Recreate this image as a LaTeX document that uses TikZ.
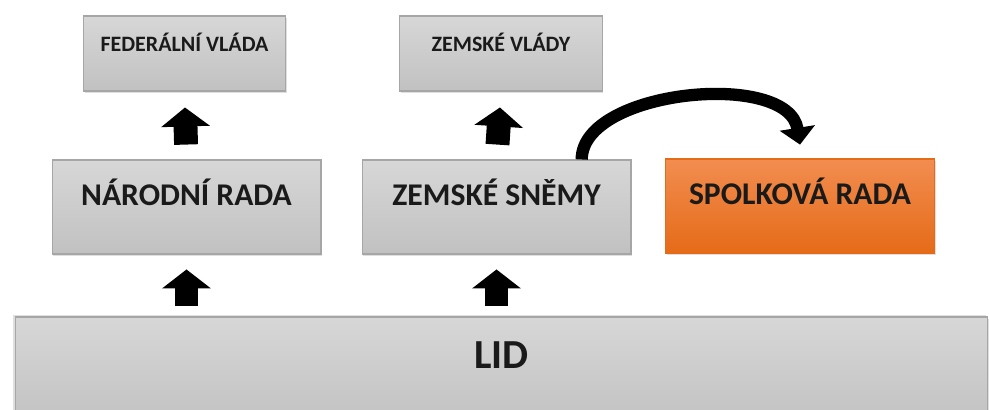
\documentclass[tikz,border=0pt]{standalone}
\usepackage{fontspec}
\setmainfont{Carlito}
\usetikzlibrary{arrows.meta,shadows}
\definecolor{greytop}{HTML}{D7D7D7}
\definecolor{greybot}{HTML}{C1C1C1}
\definecolor{greyline}{HTML}{A6A6A6}
\definecolor{orangetop}{HTML}{F28D50}
\definecolor{orangebot}{HTML}{E56B18}
\definecolor{ink}{HTML}{1A1A1A}

\begin{document}
\begin{tikzpicture}[x=0.02cm,y=-0.02cm,
  box/.style={rectangle, draw=greyline, line width=0.6pt,
    top color=greytop, bottom color=greybot, text=ink,
    drop shadow={shadow xshift=0.7pt, shadow yshift=-1pt, opacity=0.25}},
  small/.style={box, minimum width=4.05cm, minimum height=1.5cm,
    font=\fontsize{12.5}{14}\selectfont\bfseries, text height=8.5pt, text depth=10.8pt},
  mid/.style={box, minimum width=5.38cm, minimum height=1.88cm,
    font=\fontsize{18}{20}\selectfont\bfseries, text height=12pt, text depth=13.6pt},
  hot/.style={draw=orangebot, top color=orangetop, bottom color=orangebot},
  blockarrow/.style={black, line width=13.6pt, -{Triangle[width=27.2pt,length=10.8pt]}},
  curvearrow/.style={black, line width=7pt, -{Triangle[width=19.8pt,length=9.6pt]}}
]

\useasboundingbox (0,0) rectangle (989,409);
\clip (0,0) rectangle (989,409);

% the people at the bottom
\node[box, minimum width=19.46cm, minimum height=2.2cm,
  font=\fontsize{23.5}{26}\selectfont\bfseries, text height=15pt, text depth=19.4pt,
  drop shadow={shadow xshift=-1pt, shadow yshift=1pt, opacity=0.25}] (lid) at (501.5,372) {LID};

% assemblies
\node[mid] (nrada) at (186.5,207) {NÁRODNÍ RADA};
\node[mid] (zsnemy) at (496.5,207) {ZEMSKÉ SNĚMY};
\node[mid, hot] (srada) at (800,206) {SPOLKOVÁ RADA};

% governments
\node[small] (fvlada) at (184.5,53.5) {FEDERÁLNÍ VLÁDA};
\node[small] (zvlady) at (501,53.5) {ZEMSKÉ VLÁDY};

% block arrows
\draw[blockarrow, shorten <=5.7pt, shorten >=8.5pt] (lid.north -| nrada.south) -- (nrada.south);
\draw[blockarrow, shorten <=5.7pt, shorten >=8.5pt] (lid.north -| zsnemy.south) -- (zsnemy.south);
\draw[blockarrow, shorten <=8.5pt, shorten >=9.1pt] (nrada.north) -- (fvlada.south);
\draw[blockarrow, shorten <=8.5pt, shorten >=9.1pt] (zsnemy.north) -- (zvlady.south);

% curved arrow to the federal council
\draw[curvearrow] ([xshift=48.5pt]zsnemy.north) .. controls +(0,-70) and +(-12,-75) .. ([yshift=7.9pt]srada.north);

\end{tikzpicture}
\end{document}
